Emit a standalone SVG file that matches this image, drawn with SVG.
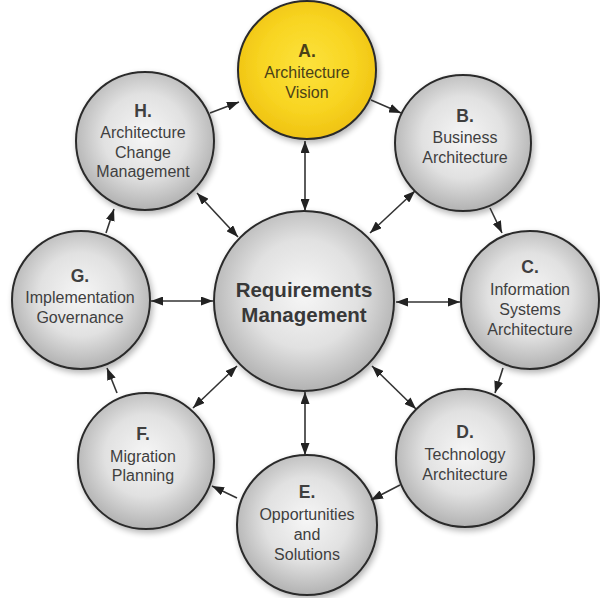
<svg xmlns="http://www.w3.org/2000/svg" width="600" height="598" viewBox="0 0 600 598">
  <defs>
    <radialGradient id="grayFill" cx="50%" cy="46%" r="55%">
      <stop offset="0" stop-color="#f6f6f6"/>
      <stop offset="0.55" stop-color="#e1e1e1"/>
      <stop offset="1" stop-color="#b0b0b0"/>
    </radialGradient>
    <radialGradient id="yellowFill" cx="50%" cy="46%" r="55%">
      <stop offset="0" stop-color="#fce23c"/>
      <stop offset="0.6" stop-color="#f8d522"/>
      <stop offset="1" stop-color="#efc212"/>
    </radialGradient>
    <filter id="shadow" x="-20%" y="-20%" width="150%" height="150%">
      <feGaussianBlur in="SourceAlpha" stdDeviation="3"/>
      <feOffset dx="2" dy="3" result="b"/>
      <feComponentTransfer><feFuncA type="linear" slope="0.3"/></feComponentTransfer>
      <feMerge><feMergeNode/><feMergeNode in="SourceGraphic"/></feMerge>
    </filter>
    <marker id="head" viewBox="0 0 12 9" refX="12" refY="4.5" markerWidth="12" markerHeight="9" markerUnits="userSpaceOnUse" orient="auto-start-reverse">
      <path d="M0,0 L12,4.5 L0,9 z" fill="#222"/>
    </marker>
    <style>
      .node { stroke: #2b2b2b; stroke-width: 2; filter: url(#shadow); }
      .gray { fill: url(#grayFill); }
      .yellow { fill: url(#yellowFill); }
      text { font-family: "Liberation Sans", Arial, sans-serif; text-anchor: middle; fill: #3f3f3f; }
      .t { font-size: 16px; }
      .h { font-size: 17.5px; font-weight: bold; }
      .big { font-size: 20.5px; font-weight: bold; fill: #383838; }
      .ya { fill: #4a4118; }
      .link { stroke: #333; stroke-width: 1.6; fill: none; marker-end: url(#head); }
      .both { marker-start: url(#head); }
    </style>
  </defs>

  <!-- phase circles -->
  <g id="reqmgmt">
    <circle class="node gray" cx="304" cy="301" r="90"/>
    <text class="big" x="304" y="297">Requirements</text>
    <text class="big" x="304" y="322">Management</text>
  </g>

  <g id="phaseA">
    <circle class="node yellow" cx="307" cy="70" r="69"/>
    <text class="h ya" x="307" y="57">A.</text>
    <text class="t ya" x="307" y="78">Architecture</text>
    <text class="t ya" x="307" y="98">Vision</text>
  </g>

  <g id="phaseB">
    <circle class="node gray" cx="463" cy="143" r="68"/>
    <text class="h" x="465" y="122">B.</text>
    <text class="t" x="465" y="143">Business</text>
    <text class="t" x="465" y="163">Architecture</text>
  </g>

  <g id="phaseC">
    <circle class="node gray" cx="530" cy="300" r="69"/>
    <text class="h" x="530" y="273">C.</text>
    <text class="t" x="530" y="295">Information</text>
    <text class="t" x="530" y="315">Systems</text>
    <text class="t" x="530" y="335">Architecture</text>
  </g>

  <g id="phaseD">
    <circle class="node gray" cx="465" cy="458" r="69"/>
    <text class="h" x="465" y="438">D.</text>
    <text class="t" x="465" y="460">Technology</text>
    <text class="t" x="465" y="480">Architecture</text>
  </g>

  <g id="phaseE">
    <circle class="node gray" cx="307" cy="525" r="70"/>
    <text class="h" x="307" y="498">E.</text>
    <text class="t" x="307" y="520">Opportunities</text>
    <text class="t" x="307" y="540">and</text>
    <text class="t" x="307" y="560">Solutions</text>
  </g>

  <g id="phaseF">
    <circle class="node gray" cx="146" cy="461" r="68"/>
    <text class="h" x="143" y="440">F.</text>
    <text class="t" x="143" y="462">Migration</text>
    <text class="t" x="143" y="481">Planning</text>
  </g>

  <g id="phaseG">
    <circle class="node gray" cx="81" cy="300" r="69"/>
    <text class="h" x="80" y="282">G.</text>
    <text class="t" x="80" y="303">Implementation</text>
    <text class="t" x="80" y="323">Governance</text>
  </g>

  <g id="phaseH">
    <circle class="node gray" cx="145" cy="141" r="69"/>
    <text class="h" x="143" y="117">H.</text>
    <text class="t" x="143" y="138">Architecture</text>
    <text class="t" x="143" y="158">Change</text>
    <text class="t" x="143" y="177">Management</text>
  </g>

  <!-- connectors: cycle arrows and links to requirements management -->
  <g id="connectors">
    <line class="link" x1="210" y1="113" x2="239" y2="102"/>
    <line class="link" x1="371" y1="100" x2="401" y2="113"/>
    <line class="link" x1="490" y1="208" x2="502" y2="233"/>
    <line class="link" x1="503" y1="368" x2="495" y2="393"/>
    <line class="link" x1="400" y1="485" x2="371" y2="500"/>
    <line class="link" x1="237" y1="498" x2="212" y2="486"/>
    <line class="link" x1="117" y1="393" x2="107" y2="368"/>
    <line class="link" x1="106" y1="233" x2="114" y2="209"/>

    <line class="link both" x1="305" y1="141" x2="305" y2="211"/>
    <line class="link both" x1="415" y1="191" x2="370" y2="233"/>
    <line class="link both" x1="460" y1="302" x2="396" y2="302"/>
    <line class="link both" x1="416" y1="409" x2="372" y2="366"/>
    <line class="link both" x1="305" y1="455" x2="305" y2="392"/>
    <line class="link both" x1="193" y1="408" x2="237" y2="366"/>
    <line class="link both" x1="151" y1="301" x2="213" y2="301"/>
    <line class="link both" x1="197" y1="193" x2="238" y2="237"/>
  </g>
</svg>
